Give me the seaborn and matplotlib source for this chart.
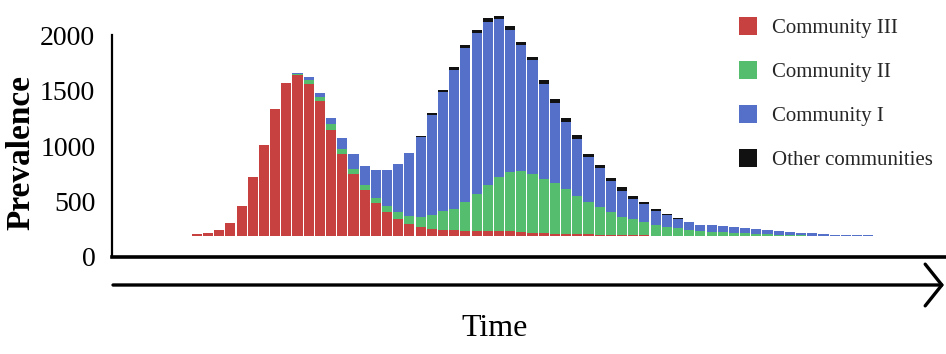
import numpy as np
import pandas as pd
import matplotlib
matplotlib.use("Agg")
import matplotlib.pyplot as plt
import seaborn as sns
from matplotlib.patches import Patch, FancyArrowPatch

# ---------------- data ----------------
time_steps = list(range(1, 67))
community_III = [5, 23, 33, 60, 124, 273, 538, 821, 1143, 1380,
                 1452, 1377, 1218, 961, 744, 562, 415, 298, 219, 160,
                 115, 84, 69, 60, 54, 48, 48, 48, 45, 45,
                 39, 33, 33, 24, 24, 18, 18, 15, 14, 9,
                 9, 7, 6, 5, 5, 3, 3, 2, 2, 1,
                 1, 1, 0, 0, 0, 0, 0, 0, 0, 0,
                 0, 0, 0, 0, 0, 0]
community_II = [0, 0, 0, 0, 0, 0, 0, 0, 0, 0,
                9, 30, 39, 47, 41, 42, 45, 50, 56, 60,
                66, 90, 120, 165, 196, 262, 337, 412, 490, 535,
                548, 532, 487, 456, 406, 343, 291, 249, 203, 169,
                147, 122, 97, 79, 65, 51, 45, 39, 33, 30,
                24, 23, 18, 15, 12, 9, 5, 3, 2, 2,
                1, 1, 1, 0, 0, 0]
community_I = [0, 0, 0, 0, 0, 0, 0, 0, 0, 0,
               12, 30, 36, 57, 97, 135, 178, 248, 323, 433,
               573, 722, 908, 1076, 1247, 1389, 1449, 1473, 1420, 1284,
               1137, 1022, 857, 725, 601, 520, 406, 354, 284, 233,
               182, 160, 126, 106, 90, 75, 58, 57, 55, 54,
               51, 41, 36, 30, 27, 21, 20, 18, 9, 8,
               7, 6, 5, 5, 4, 4]
other_communities = [0] * 21 + [11, 12, 15, 30, 24, 24, 31, 30, 30, 30,
                                30, 30, 30, 31, 30, 31, 29, 23, 29, 27,
                                24, 20, 9, 5] + [0] * 21
BASE = 187
y_ticks = [0, 500, 1000, 1500, 2000]
series_names = ["Community III", "Community II", "Community I", "Other communities"]
series_colors = ["#c84141", "#55be6e", "#5570c8", "#111111"]

# ---------------- style ----------------
sns.set_theme(style="white")
plt.rcParams["font.family"] = ["Liberation Serif", "DejaVu Serif"]

W, H = 946, 354
fig = plt.figure(figsize=(W / 100, H / 100), dpi=100)
ax = fig.add_axes([112 / W, 1 - 257 / H, 834 / W, 244 / H])

series_values = [community_III, community_II, community_I, other_communities]
bottom = np.full(len(time_steps), BASE, dtype=float)
for name, vals, col in zip(series_names, series_values, series_colors):
    df = pd.DataFrame({"t": time_steps, "v": vals})
    sns.barplot(data=df, x="t", y="v", bottom=bottom.copy(), color=col,
                saturation=1, width=0.9, linewidth=0, errorbar=None, ax=ax)
    bottom += np.asarray(vals, dtype=float)

ax.set_xlim(-6.58, 67.95)
ax.set_ylim(0, 2200)
ax.set_xticks([])
ax.set_yticks(y_ticks)
ax.set_yticklabels([str(v) for v in y_ticks], fontsize=20, color="black")
ax.tick_params(axis="y", length=0, pad=12)
ax.set_xlabel("")
ax.set_ylabel("")
for s in ["top", "right"]:
    ax.spines[s].set_visible(False)
ax.spines["left"].set_bounds(0, 2000)
ax.spines["left"].set_linewidth(1.6)
ax.spines["left"].set_color("black")
ax.spines["bottom"].set_linewidth(2.6)
ax.spines["bottom"].set_color("black")

# time arrow below the axis
arrow = FancyArrowPatch((113 / W, 1 - 285 / H), (944 / W, 1 - 285 / H),
                        transform=fig.transFigure,
                        arrowstyle="->,head_length=0.6,head_width=0.75",
                        mutation_scale=20, lw=2.4, color="black",
                        shrinkA=0, shrinkB=0)
fig.add_artist(arrow)

fig.text(21 / W, 1 - 152 / H, "Prevalence", rotation=90, ha="center",
         va="center", fontsize=24, fontweight="bold", color="black")
fig.text(495 / W, 1 - 328 / H, "Time", ha="center", va="center",
         fontsize=23, color="black")

handles = [Patch(facecolor=c, edgecolor="none", label=n)
           for n, c in zip(series_names, series_colors)]
fig.legend(handles=handles, loc="upper left",
           bbox_to_anchor=(739 / W, 1 - 17 / H), frameon=False, fontsize=15,
           handlelength=0.85, handleheight=0.95, handletextpad=0.75,
           labelspacing=1.1, borderpad=0, borderaxespad=0)

fig.savefig("out.png", dpi=100)
